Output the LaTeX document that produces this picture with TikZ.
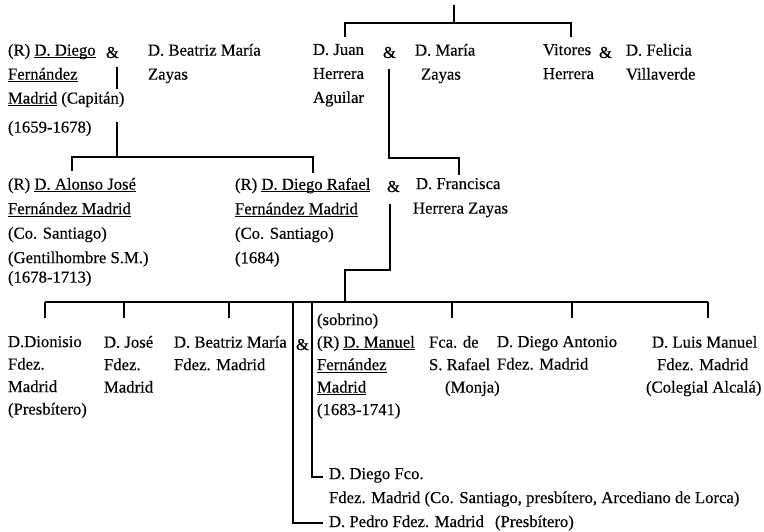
\documentclass[tikz,border=0pt]{standalone}
\usepackage{fontspec}
\setmainfont{Liberation Serif}[FakeBold=0.35]
% underline at a fixed depth, so that descenders cross it
\newsavebox\ulinebox
\newcommand\ulname[1]{\sbox\ulinebox{#1}\rlap{\rule[-2.6pt]{\wd\ulinebox}{0.9pt}}\usebox\ulinebox}
\tikzset{
  person/.style={anchor=north west, yshift=14pt, inner sep=0pt, outer sep=0pt,
    align=left, execute at begin node={\rule{0pt}{14pt}}},
  roomy/.style={font=\fontsize{16.7}{24.5}\selectfont},
  tight/.style={font=\fontsize{16.7}{22.5}\selectfont},
  amp/.style={anchor=base west, inner sep=0pt, outer sep=0pt},
  link/.style={line width=1.2pt, line cap=butt, line join=miter}
}
\begin{document}
\begin{tikzpicture}[x=1pt, y=-1pt, font=\fontsize{16.7}{24}\selectfont]
\useasboundingbox (0,0) rectangle (764,532);

% ---------- first generation ----------
\node[person] (diego) at (8,58)
  {(R) \ulname{D. Diego}\\ \ulname{Fernández}\\ \ulname{Madrid} (Capitán)\\[5pt] (1659-1678)};
\node[amp] (ampA) at (106,58) {\&};
\node[person] (beatriz) at (148,58) {D. Beatriz María\\ Zayas};
\node[person] (juan) at (313,58) {D. Juan\\ Herrera\\ Aguilar};
\node[amp] (ampB) at (383,58) {\&};
\node[person] (maria) at (415,58) {D. María\\ \hspace*{6pt}Zayas};
\node[person] (vitores) at (543,58) {Vitores\\ Herrera};
\node[amp] (ampC) at (599,58) {\&};
\node[person] (felicia) at (626,58) {D. Felicia\\ Villaverde};

% ---------- second generation ----------
\node[person, roomy] (alonso) at (8,192)
  {(R) \ulname{D. Alonso José}\\ \ulname{Fernández Madrid}\\ (Co. Santiago)\\ (Gentilhombre S.M.)\\[-5pt] (1678-1713)};
\node[person, roomy] (rafael) at (235,192)
  {(R) \ulname{D. Diego Rafael}\\ \ulname{Fernández Madrid}\\ (Co. Santiago)\\ (1684)};
\node[amp] (ampD) at (387,192) {\&};
\node[person, roomy] (francisca) at (416,192) {D. Francisca\\ \hspace*{-3pt}Herrera Zayas};

% ---------- third generation ----------
\node[person, tight] (dionisio) at (8,350) {D.Dionisio\\ Fdez.\\ Madrid\\ (Presbítero)};
\node[person, tight] (jose) at (104,350) {D. José\\ Fdez.\\ Madrid};
\node[person, tight] (beatrizB) at (174,350) {D. Beatriz María\\ Fdez. Madrid};
\node[amp] (ampE) at (296,350) {\&};
\node[person, tight] (manuel) at (317,327.5)
  {(sobrino)\\ (R) \ulname{D. Manuel}\\ \ulname{Fernández}\\ \ulname{Madrid}\\ (1683-1741)};
\node[person, tight] (fca) at (429,350) {Fca. de\\ S. Rafael\\ \hspace*{16pt}(Monja)};
\node[person, tight] (diegoant) at (497,350) {D. Diego Antonio\\ Fdez. Madrid};
\node[person, tight] (luis) at (652,350)
  {D. Luis Manuel\\ \hspace*{5pt}Fdez. Madrid\\ \hspace*{-6pt}(Colegial Alcalá)};

\node[person] (fco) at (329,482)
  {D. Diego Fco.\\ Fdez. Madrid (Co. Santiago, presbítero, Arcediano de Lorca)};
\node[person] (pedro) at (329,527)
  {\makebox[166pt][l]{D. Pedro Fdez. Madrid}(Presbítero)};

% ---------- junction points ----------
\coordinate (root) at (454,5);
\coordinate (rootbar) at (454,23);
\coordinate (juantop) at (345,37);
\coordinate (vitorestop) at (571,37);

\coordinate (mA1) at (117,67);
\coordinate (mA2) at (117,89);
\coordinate (mA3) at (117,122);
\coordinate (mA4) at (117,157);
\coordinate (alonsotop) at (72,171);
\coordinate (rafaeltop) at (313,173);

\coordinate (mB1) at (389,69);
\coordinate (mB2) at (389,158);
\coordinate (franciscatop) at (459,175);

\coordinate (mD1) at (390,204);
\coordinate (mD2) at (390,270);
\coordinate (mD3) at (345,302);

\coordinate (barL) at (45,302);
\coordinate (barR) at (708,302);
\coordinate (dionisiotop) at (45,318);
\coordinate (josetop) at (124,318);
\coordinate (beatrizBtop) at (229,318);
\coordinate (fcatop) at (452,318);
\coordinate (diegoanttop) at (572,318);
\coordinate (luistop) at (708,318);
\coordinate (pedrodrop) at (293,302);
\coordinate (pedroend) at (323,523);
\coordinate (fcodrop) at (312,302);
\coordinate (fcoend) at (323,477);

% ---------- connectors ----------
\draw[link] (root) -- (rootbar);
\draw[link] (juantop) |- (rootbar) -| (vitorestop);

\draw[link] (mA1) -- (mA2);
\draw[link] (mA3) -- (mA4);
\draw[link] (alonsotop) |- (mA4) -| (rafaeltop);

\draw[link] (mB1) -- (mB2) -| (franciscatop);

\draw[link] (mD1) -- (mD2) -| (mD3);

\draw[link] (barL) -- (barR);
\foreach \c in {dionisiotop, josetop, beatrizBtop, fcatop, diegoanttop, luistop}
  \draw[link] (\c) -- (\c |- barL);
\draw[link] (pedrodrop) |- (pedroend);
\draw[link] (fcodrop) |- (fcoend);
\end{tikzpicture}
\end{document}
